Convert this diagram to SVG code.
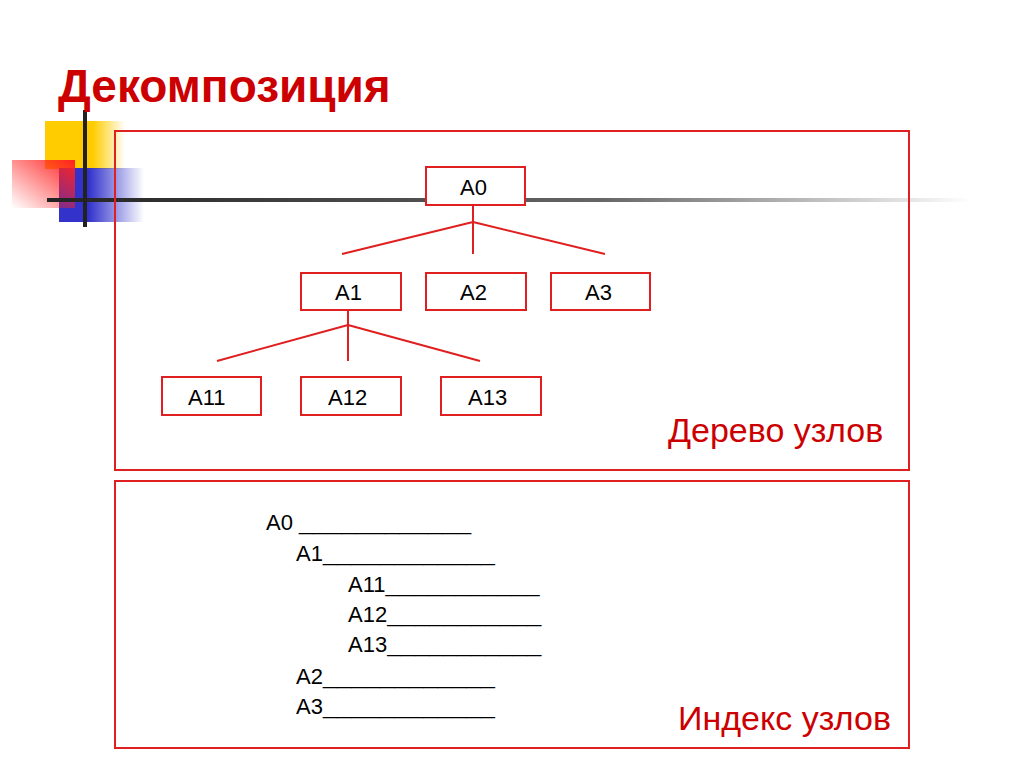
<svg xmlns="http://www.w3.org/2000/svg" width="1024" height="767" viewBox="0 0 1024 767">
<defs>
<linearGradient id="gy" x1="0" x2="1"><stop offset="0.6" stop-color="#ffcc00"/><stop offset="1" stop-color="#ffcc00" stop-opacity="0"/></linearGradient>
<linearGradient id="gb" x1="0" x2="1"><stop offset="0.35" stop-color="#3333cc"/><stop offset="1" stop-color="#3333cc" stop-opacity="0"/></linearGradient>
<linearGradient id="gr" x1="1" y1="0" x2="0" y2="1"><stop offset="0" stop-color="#ff2222"/><stop offset="1" stop-color="#ff2222" stop-opacity="0"/></linearGradient>
<linearGradient id="gl" x1="0" x2="1"><stop offset="0" stop-color="#222"/><stop offset="0.6" stop-color="#666"/><stop offset="1" stop-color="#666" stop-opacity="0"/></linearGradient>
<style>
.t{font-family:"Liberation Sans",Arial,sans-serif;font-size:22px;fill:#000}
.b{fill:#fff;stroke:#e02020;stroke-width:2}
.f{fill:none;stroke:#e02020;stroke-width:2}
.c{stroke:#e02020;stroke-width:2;fill:none}
</style>
</defs>
<rect width="1024" height="767" fill="#fff"/>
<g id="decor">
<rect x="45" y="121" width="80" height="48" fill="url(#gy)"/>
<rect x="59" y="168" width="85" height="54" fill="url(#gb)"/>
<rect x="12" y="160" width="63" height="48" fill="url(#gr)"/>
<rect x="47" y="198" width="925" height="4" fill="url(#gl)"/>
<rect x="83" y="110" width="4" height="117" fill="#222"/>
</g>
<text x="58" y="102" font-family="Liberation Sans,Arial,sans-serif" font-weight="bold" font-size="46" fill="#cc0000">Декомпозиция</text>
<rect class="f" x="115" y="131" width="794" height="339"/>
<rect class="f" x="115" y="481" width="794" height="267"/>
<g id="connectors">
<path class="c" d="M473 204V254M473 222L342 254M473 222L605 254"/>
<path class="c" d="M348 311V361M348 325L217 361M348 325L480 361"/>
</g>
<g id="A0"><rect class="b" x="426" y="167" width="99" height="38"/><text class="t" x="460" y="195">A0</text></g>
<g id="A1"><rect class="b" x="301" y="273" width="100" height="37"/><text class="t" x="335" y="300">A1</text></g>
<g id="A2"><rect class="b" x="426" y="273" width="100" height="37"/><text class="t" x="460" y="300">A2</text></g>
<g id="A3"><rect class="b" x="551" y="273" width="99" height="37"/><text class="t" x="585" y="300">A3</text></g>
<g id="A11"><rect class="b" x="162" y="377" width="99" height="38"/><text class="t" x="188" y="405">A11</text></g>
<g id="A12"><rect class="b" x="301" y="377" width="100" height="38"/><text class="t" x="328" y="405">A12</text></g>
<g id="A13"><rect class="b" x="441" y="377" width="100" height="38"/><text class="t" x="468" y="405">A13</text></g>
<text x="668" y="442" font-family="Liberation Sans,Arial,sans-serif" font-size="34" fill="#cc0000">Дерево узлов</text>
<text x="678" y="730" font-family="Liberation Sans,Arial,sans-serif" font-size="34" fill="#cc0000">Индекс узлов</text>
<g class="t">
<text x="266" y="530">A0 <tspan textLength="172" lengthAdjust="spacingAndGlyphs">____________</tspan></text>
<text x="296" y="561">A1<tspan textLength="172" lengthAdjust="spacingAndGlyphs">____________</tspan></text>
<text x="348" y="592">A11<tspan textLength="154" lengthAdjust="spacingAndGlyphs">___________</tspan></text>
<text x="348" y="622">A12<tspan textLength="154" lengthAdjust="spacingAndGlyphs">___________</tspan></text>
<text x="348" y="652">A13<tspan textLength="154" lengthAdjust="spacingAndGlyphs">___________</tspan></text>
<text x="296" y="684">A2<tspan textLength="172" lengthAdjust="spacingAndGlyphs">____________</tspan></text>
<text x="296" y="714">A3<tspan textLength="172" lengthAdjust="spacingAndGlyphs">____________</tspan></text>
</g>
</svg>
